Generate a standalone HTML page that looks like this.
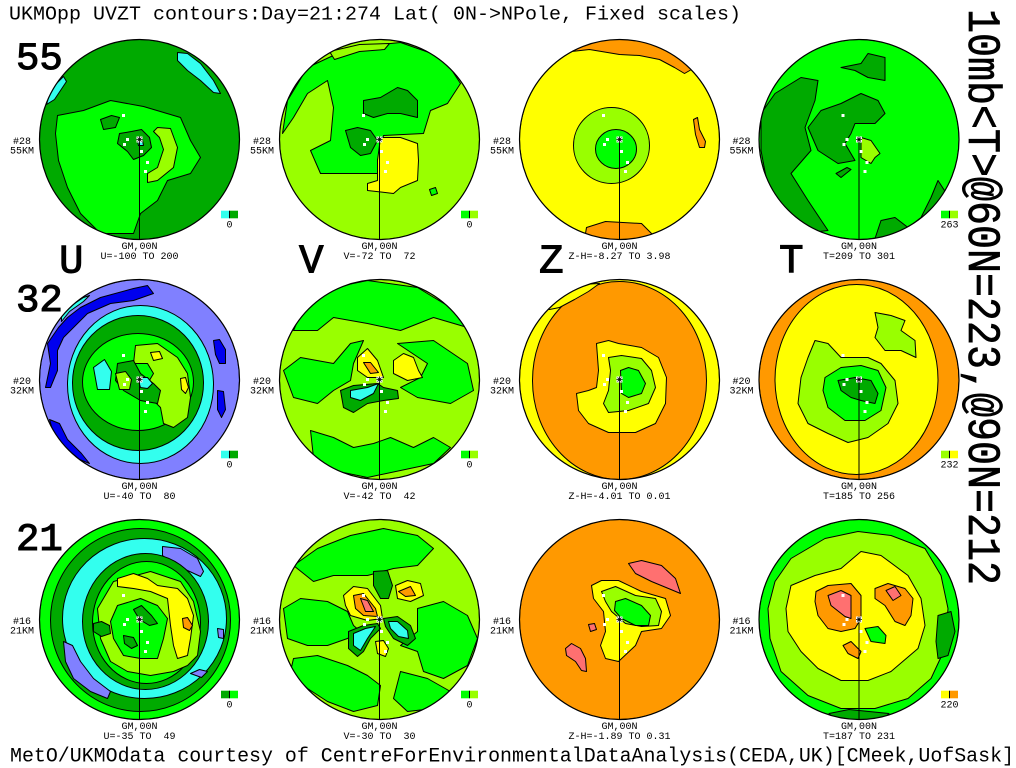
<!DOCTYPE html>
<html><head><meta charset="utf-8"><style>
html,body{margin:0;padding:0;background:#fff;}
svg{display:block}
.dg{fill:#00aa00}.g{fill:#00ff00}.yg{fill:#99ff00}.y{fill:#ffff00}.o{fill:#ff9900}.s{fill:#ff7070}.c{fill:#33ffee}.p{fill:#8080ff}.b{fill:#0000ee}
.k *{stroke:#000;stroke-width:1;stroke-linejoin:round}
text{font-family:"Liberation Mono",monospace;fill:#000}
.sm{font-size:10px;white-space:pre}
.big{font-size:39px;stroke:#000;stroke-width:1.1}
.lt{font-size:41px;stroke:#000;stroke-width:1}
.dots rect{fill:#fff}
</style></head><body>
<svg width="1016" height="768" viewBox="0 0 1016 768" xmlns="http://www.w3.org/2000/svg">
<defs>
<clipPath id="cc"><circle r="100"/></clipPath>
<g id="pole"><rect x="-3" y="-3" width="6" height="6" fill="#fff"/><path d="M-2,-2L2,2M2,-2L-2,2M0,-3L0,3M-3,0L3,0" stroke="#000" stroke-width="0.8"/></g>
<g id="dots" class="dots"><rect x="-17.5" y="-25.5" width="3" height="3"/><rect x="-13.5" y="-1.5" width="3" height="3"/><rect x="-16.5" y="3.5" width="3" height="3"/><rect x="0.5" y="10.5" width="3" height="3"/><rect x="6.5" y="21.5" width="3" height="3"/><rect x="4.5" y="30.5" width="3" height="3"/></g>
</defs>

<text x="9" y="19.3" font-size="19.5" textLength="732" lengthAdjust="spacingAndGlyphs" style="white-space:pre">UKMOpp UVZT contours:Day=21:274 Lat( 0N-&gt;NPole, Fixed scales)</text>
<text transform="translate(969,9) rotate(90)" font-size="46" stroke="#000" stroke-width="0.7" textLength="576" lengthAdjust="spacingAndGlyphs">10mb&lt;T&gt;@60N=223,@90N=212</text>
<text x="10" y="761.5" font-size="20" textLength="1004" lengthAdjust="spacingAndGlyphs">MetO/UKMOdata courtesy of CentreForEnvironmentalDataAnalysis(CEDA,UK)[CMeek,UofSask]</text>

<text x="16" y="69" class="big">55</text>
<text x="16" y="311" class="big">32</text>
<text x="16" y="550" class="big">21</text>
<text x="59" y="272.3" class="lt">U</text>
<text x="299" y="272.3" class="lt">V</text>
<text x="539" y="272.3" class="lt">Z</text>
<text x="779" y="272.3" class="lt">T</text>

<!-- Panel 1: U55 -->
<g transform="translate(139.5,139.5)">
<g clip-path="url(#cc)" class="k">
<circle r="100" class="dg"/>
<polygon class="g" points="-82,-24 -56,-29 -29,-39 4,-33 41,-22 51,1 61,18 51,34 28,41 18,61 1,74 -6,94 -39,94 -59,74 -72,48 -81,21 -84,-6"/>
<polygon class="dg" points="-39,-20 -28,-24 -20,-22 -24,-12 -36,-10"/>
<polygon class="dg" points="-20,-6 -8,-8 2,-10 10,-2 12,8 4,16 -6,20 -12,12 -22,4"/>
<polygon class="yg" points="18,-12 31,-11 38,8 34,28 18,41 8,43 8,34 18,28 24,10 20,-2 14,-8"/>
<polygon class="c" points="38,-87 48,-86 61,-76 74,-59 81,-46 74,-47 61,-59 48,-69 38,-79"/>
<polygon class="c" points="-76,-63 -73,-58 -85,-40 -93,-35 -90,-45 -84,-55"/>
<polygon class="c" points="-2,1 3,1 4,6 -1,6"/>
</g>
<circle r="100" fill="none" stroke="#000" stroke-width="1.2"/>
<line x1="0" y1="0" x2="0" y2="100" stroke="#000"/>
<use href="#dots"/><use href="#pole"/>
<text x="-117.5" y="4.3" class="sm" text-anchor="middle">#28</text>
<text x="-117.5" y="13.8" class="sm" text-anchor="middle">55KM</text>
<text x="0" y="109.5" class="sm" text-anchor="middle">GM,00N</text>
<text x="0" y="119.5" class="sm" text-anchor="middle">U=-100 TO 200</text>
<rect x="81.5" y="71.2" width="8.5" height="7.6" class="c"/><rect x="90" y="71.2" width="8.5" height="7.6" class="dg"/><line x1="90" y1="71.2" x2="90" y2="78.8" stroke="#000"/>
<text x="90" y="88" class="sm" text-anchor="middle">0</text>
</g>

<!-- Panel 2: V55 -->
<g transform="translate(379.5,139.5)">
<g clip-path="url(#cc)" class="k">
<circle r="100" class="yg"/>
<polygon class="g" points="-92,-39 -72,-72 -29,-92 21,-97 64,-82 81,-56 68,-36 51,-29 44,-6 4,-4 -2,21 -2,34 -59,34 -69,11 -49,1 -46,-32 -52,-59 -72,-46 -86,-22 -97,-6"/>
<polygon class="yg" points="-50,-88 -20,-95 10,-96 5,-90 -20,-88 -45,-80"/>
<polygon class="y" points="1,-2 21,-2 38,4 39,21 38,41 21,48 14,54 -12,51 -12,44 -2,41 -2,21"/>
<polygon class="dg" points="-16,-39 1,-42 18,-52 28,-49 38,-39 38,-22 21,-26 8,-26 -6,-22 -16,-26"/>
<polygon class="dg" points="-34,-9 -22,-12 -9,-9 -2,1 -9,14 -19,16 -29,8"/>
<polygon class="g" points="50,50 56,48 58,54 52,56"/>
</g>
<circle r="100" fill="none" stroke="#000" stroke-width="1.2"/>
<line x1="0" y1="0" x2="0" y2="100" stroke="#000"/>
<use href="#dots"/><use href="#pole"/>
<text x="-117.5" y="4.3" class="sm" text-anchor="middle">#28</text>
<text x="-117.5" y="13.8" class="sm" text-anchor="middle">55KM</text>
<text x="0" y="109.5" class="sm" text-anchor="middle">GM,00N</text>
<text x="0" y="119.5" class="sm" text-anchor="middle">V=-72 TO  72</text>
<rect x="81.5" y="71.2" width="8.5" height="7.6" class="g"/><rect x="90" y="71.2" width="8.5" height="7.6" class="yg"/><line x1="90" y1="71.2" x2="90" y2="78.8" stroke="#000"/>
<text x="90" y="88" class="sm" text-anchor="middle">0</text>
</g>

<!-- Panel 3: Z55 -->
<g transform="translate(619.5,139.5)">
<g clip-path="url(#cc)" class="k">
<circle r="100" class="y"/>
<polygon class="o" points="-48,-88 -30,-90 0,-85 20,-84 40,-80 55,-72 65,-66 72,-70 90,-90 50,-115 -50,-115 -60,-100"/>
<polygon class="o" points="-34,94 -33,88 -14,82 22,84 32,94 40,110 -40,110"/>
<polygon class="o" points="74,-20 78,-22 80,-10 86,2 85,8 80,8 76,-5"/>
<ellipse class="yg" cx="-8" cy="6" rx="38" ry="38"/>
<ellipse class="g" cx="-3.5" cy="9.5" rx="20.5" ry="19.5"/>
</g>
<circle r="100" fill="none" stroke="#000" stroke-width="1.2"/>
<line x1="0" y1="0" x2="0" y2="100" stroke="#000"/>
<use href="#dots"/><use href="#pole"/>
<text x="-117.5" y="4.3" class="sm" text-anchor="middle">#28</text>
<text x="-117.5" y="13.8" class="sm" text-anchor="middle">55KM</text>
<text x="0" y="109.5" class="sm" text-anchor="middle">GM,00N</text>
<text x="0" y="119.5" class="sm" text-anchor="middle">Z-H=-8.27 TO 3.98</text>
</g>

<!-- Panel 4: T55 -->
<g transform="translate(859,139.5)">
<g clip-path="url(#cc)" class="k">
<circle r="100" class="g"/>
<polygon class="dg" points="-98,-26 -84,-46 -58,-62 -41,-59 -44,-39 -54,-12 -48,11 -68,34 -51,61 -31,91 -58,94 -78,74 -91,48 -98,11"/>
<polygon class="dg" points="-51,-12 -38,-29 -18,-36 2,-46 19,-39 26,-26 16,-16 -4,-16 -8,-6 -14,4 -4,21 -21,24 -41,11"/>
<polygon class="dg" points="-18,-72 2,-76 9,-86 26,-82 26,-59 9,-62 -4,-69"/>
<polygon class="dg" points="22,81 36,78 49,88 62,78 72,58 79,41 92,61 76,78 49,94 16,99"/>
<polygon class="dg" points="-23,34 -12,28 -8,30 -18,38"/>
<polygon class="yg" points="2,-2 12,1 21,14 16,18 12,24 2,18"/>
</g>
<circle r="100" fill="none" stroke="#000" stroke-width="1.2"/>
<line x1="0" y1="0" x2="0" y2="100" stroke="#000"/>
<use href="#dots"/><use href="#pole"/>
<text x="-117.5" y="4.3" class="sm" text-anchor="middle">#28</text>
<text x="-117.5" y="13.8" class="sm" text-anchor="middle">55KM</text>
<text x="0" y="109.5" class="sm" text-anchor="middle">GM,00N</text>
<text x="0" y="119.5" class="sm" text-anchor="middle">T=209 TO 301</text>
<rect x="82" y="71.2" width="8.5" height="7.6" class="g"/><rect x="90.5" y="71.2" width="8.5" height="7.6" class="yg"/><line x1="90.5" y1="71.2" x2="90.5" y2="78.8" stroke="#000"/>
<text x="90.5" y="88" class="sm" text-anchor="middle">263</text>
</g>

<!-- Panel 5: U32 -->
<g transform="translate(139.5,379.5)">
<g clip-path="url(#cc)" class="k">
<circle r="100" class="p"/>
<polygon class="b" points="-92,-36 -81,-52 -72,-62 -59,-72 -39,-82 -6,-91 8,-94 14,-86 -6,-79 -29,-76 -52,-66 -66,-52 -76,-42 -82,-29 -82,-9 -89,8 -94,8 -89,-16"/>
<polygon class="b" points="74,-39 80,-40 86,-30 86,-16 80,-16 76,-25"/>
<polygon class="b" points="78,11 84,12 86,30 82,38 78,30"/>
<polygon class="b" points="-90,40 -80,44 -72,60 -58,74 -50,84 -60,80 -74,68 -86,54"/>
<polygon class="c" points="-78,-58 -70,-68 -56,-78 -50,-84 -56,-82 -68,-74 -78,-64"/>
<ellipse class="c" cx="1" cy="5" rx="73" ry="79"/>
<ellipse class="dg" cx="-1.5" cy="3.5" rx="65.5" ry="67.5"/>
<ellipse class="g" cx="-1.5" cy="2.5" rx="55.5" ry="48.5"/>
<polygon class="yg" points="-4,-34 18,-36 38,-22 48,-6 51,18 48,38 34,48 24,44 21,28 11,18 4,11 14,-6 8,-16 -6,-16"/>
<polygon class="dg" points="-22,-16 -6,-19 1,-6 14,4 21,11 18,24 1,21 -16,11 -24,1"/>
<polygon class="yg" points="-24,-6 -14,-8 -8,0 -10,10 -20,10"/>
<polygon class="c" points="-2,-2 8,-2 13,4 8,9 1,8"/>
<polygon class="c" points="-46,-12 -35,-20 -28,-8 -30,10 -42,10"/>
<polygon class="y" points="11,-27 20,-28 23,-21 14,-19"/>
<polygon class="y" points="41,-1 46,-2 49,8 46,14 42,10"/>
</g>
<circle r="100" fill="none" stroke="#000" stroke-width="1.2"/>
<line x1="0" y1="0" x2="0" y2="100" stroke="#000"/>
<use href="#dots"/><use href="#pole"/>
<text x="-117.5" y="4.3" class="sm" text-anchor="middle">#20</text>
<text x="-117.5" y="13.8" class="sm" text-anchor="middle">32KM</text>
<text x="0" y="109.5" class="sm" text-anchor="middle">GM,00N</text>
<text x="0" y="119.5" class="sm" text-anchor="middle">U=-40 TO  80</text>
<rect x="81.5" y="71.2" width="8.5" height="7.6" class="c"/><rect x="90" y="71.2" width="8.5" height="7.6" class="dg"/><line x1="90" y1="71.2" x2="90" y2="78.8" stroke="#000"/>
<text x="90" y="88" class="sm" text-anchor="middle">0</text>
</g>

<!-- Panel 6: V32 -->
<g transform="translate(379.5,379.5)">
<g clip-path="url(#cc)" class="k">
<circle r="100" class="yg"/>
<polygon class="g" points="-72,-82 -46,-92 -12,-99 38,-92 71,-72 88,-52 54,-62 21,-49 -12,-56 -46,-62 -62,-49 -86,-49"/>
<polygon class="g" points="-96,-9 -79,-22 -46,-16 -29,-36 -16,-39 -26,-16 -29,1 -46,11 -62,24 -86,18"/>
<polygon class="g" points="18,-36 54,-39 88,-16 94,11 71,24 38,18 21,8 41,-2 48,-16"/>
<polygon class="g" points="-69,51 -46,58 -26,68 -6,64 11,58 34,68 54,58 71,68 54,84 21,91 -12,98 -46,91 -66,78"/>
<polygon class="y" points="-22,-22 -12,-31 -2,-19 4,-2 -12,-2 -22,-9"/>
<polygon class="o" points="-16,-17 -9,-17 -1,-7 -9,-6"/>
<polygon class="y" points="14,-19 24,-26 34,-22 39,-9 43,-2 28,1 14,-6"/>
<polygon class="dg" points="-39,11 -26,6 -2,4 4,8 18,11 19,19 4,21 -12,24 -26,33 -36,28"/>
<polygon class="c" points="-29,11 -12,8 -1,4 -6,14 -19,21 -29,18"/>
</g>
<circle r="100" fill="none" stroke="#000" stroke-width="1.2"/>
<line x1="0" y1="0" x2="0" y2="100" stroke="#000"/>
<use href="#dots"/><use href="#pole"/>
<text x="-117.5" y="4.3" class="sm" text-anchor="middle">#20</text>
<text x="-117.5" y="13.8" class="sm" text-anchor="middle">32KM</text>
<text x="0" y="109.5" class="sm" text-anchor="middle">GM,00N</text>
<text x="0" y="119.5" class="sm" text-anchor="middle">V=-42 TO  42</text>
<rect x="81.5" y="71.2" width="8.5" height="7.6" class="g"/><rect x="90" y="71.2" width="8.5" height="7.6" class="yg"/><line x1="90" y1="71.2" x2="90" y2="78.8" stroke="#000"/>
<text x="90" y="88" class="sm" text-anchor="middle">0</text>
</g>

<!-- Panel 7: Z32 -->
<g transform="translate(619.5,379.5)">
<g clip-path="url(#cc)" class="k">
<circle r="100" class="y"/>
<ellipse class="o" cx="0" cy="1" rx="87" ry="99"/>
<polygon class="y" points="-70,-70 -60,-72 -45,-80 -31,-88 -20,-96 -40,-95 -60,-85 -75,-72"/>
<polygon class="y" points="-23,-36 -11,-39 -1,-36 22,-32 39,-22 47,-2 46,24 36,44 16,53 -11,53 -31,44 -41,31 -43,14 -31,11 -23,8 -21,-9"/>
<polygon class="yg" points="-11,-22 2,-24 22,-21 32,-9 36,8 29,24 9,31 -11,33 -16,24 -11,11 -9,-9"/>
<polygon class="g" points="1,-9 9,-12 19,-9 26,4 22,14 9,18 2,14"/>
</g>
<circle r="100" fill="none" stroke="#000" stroke-width="1.2"/>
<line x1="0" y1="0" x2="0" y2="100" stroke="#000"/>
<use href="#dots"/><use href="#pole"/>
<text x="-117.5" y="4.3" class="sm" text-anchor="middle">#20</text>
<text x="-117.5" y="13.8" class="sm" text-anchor="middle">32KM</text>
<text x="0" y="109.5" class="sm" text-anchor="middle">GM,00N</text>
<text x="0" y="119.5" class="sm" text-anchor="middle">Z-H=-4.01 TO 0.01</text>
</g>

<!-- Panel 8: T32 -->
<g transform="translate(859,379.5)">
<g clip-path="url(#cc)" class="k">
<circle r="100" class="o"/>
<ellipse class="y" cx="-2.5" cy="0" rx="81.5" ry="95"/>
<polygon class="yg" points="-44,-39 -31,-36 -18,-22 9,-22 22,-16 36,1 39,24 29,44 9,58 -11,63 -31,54 -51,44 -61,24 -58,-2 -51,-22"/>
<polygon class="yg" points="16,-67 32,-64 46,-59 42,-49 56,-39 57,-22 42,-29 26,-29 16,-42 19,-52"/>
<polygon class="g" points="-34,-2 -18,-12 2,-14 19,-9 27,8 22,31 6,41 -14,41 -31,28 -36,11"/>
<polygon class="dg" points="-21,1 -4,-2 12,1 19,14 16,24 2,21 -8,18 -18,11"/>
</g>
<circle r="100" fill="none" stroke="#000" stroke-width="1.2"/>
<line x1="0" y1="0" x2="0" y2="100" stroke="#000"/>
<use href="#dots"/><use href="#pole"/>
<text x="-117.5" y="4.3" class="sm" text-anchor="middle">#20</text>
<text x="-117.5" y="13.8" class="sm" text-anchor="middle">32KM</text>
<text x="0" y="109.5" class="sm" text-anchor="middle">GM,00N</text>
<text x="0" y="119.5" class="sm" text-anchor="middle">T=185 TO 256</text>
<rect x="82" y="71.2" width="8.5" height="7.6" class="yg"/><rect x="90.5" y="71.2" width="8.5" height="7.6" class="y"/><line x1="90.5" y1="71.2" x2="90.5" y2="78.8" stroke="#000"/>
<text x="90.5" y="88" class="sm" text-anchor="middle">232</text>
</g>

<!-- Panel 9: U21 -->
<g transform="translate(139.5,619.5)">
<g clip-path="url(#cc)" class="k">
<circle r="100" class="g"/>
<ellipse class="dg" cx="1" cy="0.5" rx="90" ry="91.5"/>
<ellipse class="c" cx="5" cy="-1" rx="82" ry="80"/>
<polygon class="p" points="23,-73 41,-71 58,-61 64,-48 61,-43 48,-49 31,-58 23,-64"/>
<polygon class="p" points="-76,22 -67,26 -59,42 -46,59 -29,72 -32,79 -49,72 -66,59 -74,42"/>
<polygon class="p" points="51,54 60,50 68,52 62,58"/>
<polygon class="p" points="78,9 84,10 84,19 79,18"/>
<ellipse class="dg" cx="6" cy="2" rx="63" ry="68"/>
<ellipse class="g" cx="7" cy="3" rx="54" ry="61"/>
<polygon class="yg" points="-26,-38 11,-48 41,-38 54,-18 61,12 58,36 48,46 34,52 11,56 -12,52 -29,42 -39,19 -42,-11"/>
<polygon class="g" points="-22,-14 1,-21 18,-14 28,-1 24,19 18,39 1,39 -16,36 -26,19 -29,2"/>
<polygon class="y" points="-22,-41 -6,-46 8,-41 18,-34 38,-31 48,-21 54,-4 51,19 48,36 38,39 34,26 31,6 28,-21 11,-28 -6,-31 -22,-33"/>
<polygon class="o" points="43,-1 48,-2 53,6 50,11 44,8"/>
<polygon class="dg" points="-46,4 -38,2 -30,6 -29,14 -38,17 -46,12"/>
<polygon class="dg" points="-16,16 -6,18 -2,26 -8,29 -15,24"/>
<polygon class="dg" points="-6,-10 2,-14 12,-4 18,4 10,6 0,0"/>
</g>
<circle r="100" fill="none" stroke="#000" stroke-width="1.2"/>
<line x1="0" y1="0" x2="0" y2="100" stroke="#000"/>
<use href="#dots"/><use href="#pole"/>
<text x="-117.5" y="4.3" class="sm" text-anchor="middle">#16</text>
<text x="-117.5" y="13.8" class="sm" text-anchor="middle">21KM</text>
<text x="0" y="109.5" class="sm" text-anchor="middle">GM,00N</text>
<text x="0" y="119.5" class="sm" text-anchor="middle">U=-35 TO  49</text>
<rect x="81.5" y="71.2" width="8.5" height="7.6" class="dg"/><rect x="90" y="71.2" width="8.5" height="7.6" class="g"/><line x1="90" y1="71.2" x2="90" y2="78.8" stroke="#000"/>
<text x="90" y="88" class="sm" text-anchor="middle">0</text>
</g>

<!-- Panel 10: V21 -->
<g transform="translate(379.5,619.5)">
<g clip-path="url(#cc)" class="k">
<circle r="100" class="yg"/>
<polygon class="g" points="-86,-54 -62,-71 -29,-84 4,-91 38,-84 54,-71 38,-54 14,-51 -12,-44 -46,-44 -66,-38"/>
<polygon class="g" points="-96,-11 -79,-21 -52,-18 -32,-8 -26,6 -19,12 -32,19 -52,26 -72,26 -92,19"/>
<polygon class="g" points="38,-11 64,-18 88,-4 98,19 88,46 64,59 44,52 38,32 21,26 38,12"/>
<polygon class="g" points="-86,39 -62,36 -32,46 -12,56 1,66 -2,86 -26,92 -52,82 -72,69 -89,52"/>
<polygon class="g" points="21,52 48,59 71,72 54,89 28,92 14,79"/>
<polygon class="dg" points="-6,-48 8,-49 13,-34 9,-21 1,-21 -6,-34"/>
<polygon class="y" points="-36,-24 -26,-33 -12,-31 1,-14 3,-1 -12,1 -29,-4 -34,-14"/>
<polygon class="o" points="-26,-24 -16,-26 -4,-11 -2,-3 -16,-4 -24,-11"/>
<polygon class="s" points="-19,-21 -12,-19 -6,-8 -14,-8"/>
<polygon class="y" points="16,-34 28,-39 41,-36 44,-24 31,-18 18,-21"/>
<polygon class="o" points="19,-28 31,-33 36,-24 26,-23"/>
<polygon class="dg" points="-31,12 -16,6 -2,4 1,9 -9,19 -16,32 -22,37 -31,29"/>
<polygon class="c" points="-26,14 -14,9 -4,7 -12,19 -19,31 -26,26"/>
<polygon class="dg" points="4,-1 18,-3 31,6 36,19 28,26 14,19 6,7"/>
<polygon class="c" points="9,2 18,2 28,11 29,19 19,17 11,9"/>
<polygon class="y" points="-4,22 4,21 9,29 6,37 -2,34"/>
</g>
<circle r="100" fill="none" stroke="#000" stroke-width="1.2"/>
<line x1="0" y1="0" x2="0" y2="100" stroke="#000"/>
<use href="#dots"/><use href="#pole"/>
<text x="-117.5" y="4.3" class="sm" text-anchor="middle">#16</text>
<text x="-117.5" y="13.8" class="sm" text-anchor="middle">21KM</text>
<text x="0" y="109.5" class="sm" text-anchor="middle">GM,00N</text>
<text x="0" y="119.5" class="sm" text-anchor="middle">V=-30 TO  30</text>
<rect x="81.5" y="71.2" width="8.5" height="7.6" class="g"/><rect x="90" y="71.2" width="8.5" height="7.6" class="yg"/><line x1="90" y1="71.2" x2="90" y2="78.8" stroke="#000"/>
<text x="90" y="88" class="sm" text-anchor="middle">0</text>
</g>

<!-- Panel 11: Z21 -->
<g transform="translate(619.5,619.5)">
<g clip-path="url(#cc)" class="k">
<circle r="100" class="o"/>
<polygon class="y" points="-28,-34 -18,-39 -1,-39 22,-28 46,-21 51,-4 42,9 22,12 16,26 -1,42 -14,39 -19,26 -14,12 -16,-8 -26,-21"/>
<polygon class="yg" points="-18,-28 -4,-33 16,-24 36,-21 42,-8 39,6 22,7 6,4 -8,-8 -14,-18"/>
<polygon class="g" points="-4,-18 6,-21 22,-14 31,-4 29,6 16,6 2,-1 -5,-9"/>
<polygon class="s" points="9,-56 22,-59 42,-54 56,-41 61,-26 49,-31 32,-38 16,-46"/>
<polygon class="s" points="-54,29 -48,24 -39,29 -34,39 -33,52 -38,51 -44,42 -53,36"/>
<polygon class="s" points="-31,5 -25,4 -23,10 -29,12"/>
</g>
<circle r="100" fill="none" stroke="#000" stroke-width="1.2"/>
<line x1="0" y1="0" x2="0" y2="100" stroke="#000"/>
<use href="#dots"/><use href="#pole"/>
<text x="-117.5" y="4.3" class="sm" text-anchor="middle">#16</text>
<text x="-117.5" y="13.8" class="sm" text-anchor="middle">21KM</text>
<text x="0" y="109.5" class="sm" text-anchor="middle">GM,00N</text>
<text x="0" y="119.5" class="sm" text-anchor="middle">Z-H=-1.89 TO 0.31</text>
</g>

<!-- Panel 12: T21 -->
<g transform="translate(859,619.5)">
<g clip-path="url(#cc)" class="k">
<circle r="100" class="g"/>
<polygon class="yg" points="-84,-38 -68,-61 -34,-81 -1,-88 32,-84 66,-71 82,-44 89,-11 86,29 72,59 49,79 16,89 -18,89 -51,76 -78,52 -89,19 -91,-11"/>
<polygon class="y" points="-68,-34 -44,-44 -18,-51 2,-68 22,-64 49,-44 62,-21 66,6 59,29 32,52 9,61 -18,61 -41,49 -58,32 -71,12 -73,-11"/>
<polygon class="o" points="-43,-28 -31,-34 -8,-36 2,-24 2,-1 -4,9 -18,12 -31,9 -41,-4 -44,-18"/>
<polygon class="s" points="-31,-24 -18,-29 -8,-24 -8,-1 -14,-3 -28,-14"/>
<polygon class="o" points="16,-31 29,-36 46,-31 54,-21 52,-4 46,6 36,2 26,-14 16,-21"/>
<polygon class="s" points="27,-29 36,-33 42,-24 34,-19"/>
<polygon class="o" points="-16,26 -8,22 2,32 -1,39 -11,34"/>
<polygon class="g" points="6,9 19,7 27,16 26,24 12,22"/>
<polygon class="dg" points="79,-4 92,-8 96,12 89,36 79,39 77,22"/>
<polygon class="dg" points="-30,94 -10,90 10,92 30,94 20,105 -20,105"/>
</g>
<circle r="100" fill="none" stroke="#000" stroke-width="1.2"/>
<line x1="0" y1="0" x2="0" y2="100" stroke="#000"/>
<use href="#dots"/><use href="#pole"/>
<text x="-117.5" y="4.3" class="sm" text-anchor="middle">#16</text>
<text x="-117.5" y="13.8" class="sm" text-anchor="middle">21KM</text>
<text x="0" y="109.5" class="sm" text-anchor="middle">GM,00N</text>
<text x="0" y="119.5" class="sm" text-anchor="middle">T=187 TO 231</text>
<rect x="82" y="71.2" width="8.5" height="7.6" class="y"/><rect x="90.5" y="71.2" width="8.5" height="7.6" class="o"/><line x1="90.5" y1="71.2" x2="90.5" y2="78.8" stroke="#000"/>
<text x="90.5" y="88" class="sm" text-anchor="middle">220</text>
</g>
</svg>
</body></html>
